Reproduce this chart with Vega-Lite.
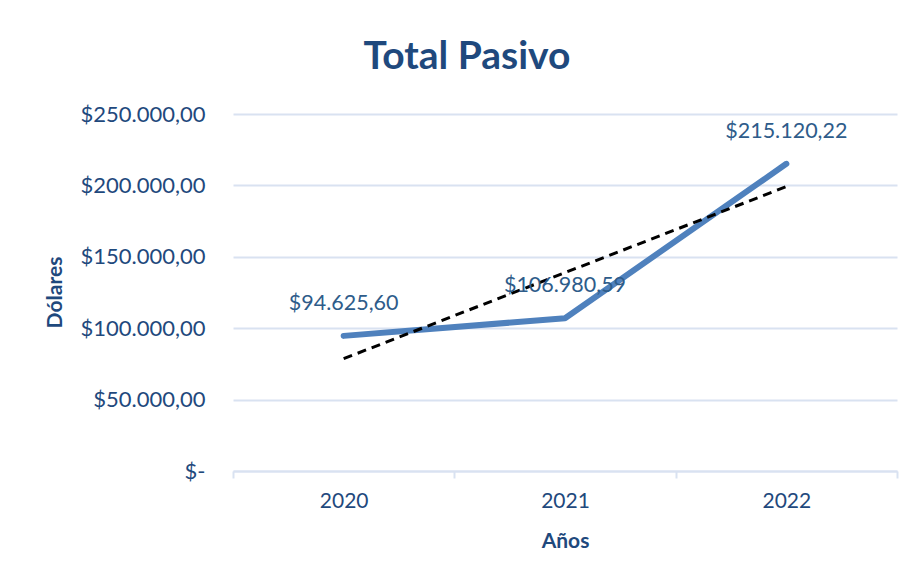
{
  "$schema": "https://vega.github.io/schema/vega-lite/v6.json",
  "width": 664,
  "height": 357,
  "autosize": "none",
  "padding": {"left": 233, "top": 114, "right": 18, "bottom": 110},
  "background": "white",
  "config": {
    "locale": {"number": {"decimal": ",", "thousands": ".", "grouping": [3], "currency": ["$", ""]}},
    "view": {"stroke": null},
    "font": "Lato"
  },
  "title": {
    "text": "Total Pasivo",
    "fontSize": 39,
    "fontWeight": "bold",
    "color": "#1F497D",
    "anchor": "middle",
    "dx": -98,
    "offset": 26,
    "font": "Lato"
  },
  "data": {
    "values": [
      {"year": "2020", "value": 94625.60, "trend": 78661.5},
      {"year": "2021", "value": 106980.59, "trend": 138908.8},
      {"year": "2022", "value": 215120.22, "trend": 199156.1}
    ]
  },
  "encoding": {
    "x": {
      "field": "year",
      "type": "ordinal",
      "scale": {"paddingInner": 0, "paddingOuter": 0},
      "axis": {
        "title": "Años",
        "labelAngle": 0,
        "labelFontSize": 21,
        "labelColor": "#1F497D",
        "labelPadding": 12,
        "titleFontSize": 21,
        "titleFontWeight": "bold",
        "titleColor": "#1F497D",
        "titlePadding": 19,
        "domainColor": "#D9E2F1",
        "domainWidth": 2,
        "tickColor": "#D9E2F1",
        "tickWidth": 2,
        "tickSize": 7,
        "tickBand": "extent",
        "grid": false
      }
    }
  },
  "layer": [
    {
      "mark": {"type": "line", "color": "#4F81BD", "strokeWidth": 6, "strokeCap": "round", "strokeJoin": "round"},
      "encoding": {
        "y": {
          "field": "value",
          "type": "quantitative",
          "scale": {"domain": [0, 250000], "nice": false},
          "axis": {
            "title": "Dólares",
            "values": [0, 50000, 100000, 150000, 200000, 250000],
            "labelExpr": "datum.value == 0 ? '$-' : format(datum.value, '$,.2f')",
            "labelFontSize": 22,
            "labelColor": "#1F497D",
            "labelPadding": 28,
            "titleFontSize": 21,
            "titleFontWeight": "bold",
            "titleColor": "#1F497D",
            "titleX": -178,
            "titleY": 178,
            "titleAngle": -90,
            "titleBaseline": "middle",
            "titleAlign": "center",
            "domain": false,
            "ticks": false,
            "grid": true,
            "gridColor": "#D9E2F1",
            "gridWidth": 2
          }
        }
      }
    },
    {
      "mark": {"type": "line", "color": "black", "strokeWidth": 3, "strokeDash": [9, 6]},
      "encoding": {"y": {"field": "trend", "type": "quantitative"}}
    },
    {
      "mark": {"type": "text", "fontSize": 21.5, "color": "#2E5C8A", "dy": -32, "baseline": "middle", "font": "Lato"},
      "encoding": {
        "y": {"field": "value", "type": "quantitative"},
        "text": {"field": "value", "type": "quantitative", "format": "$,.2f"}
      }
    }
  ]
}
